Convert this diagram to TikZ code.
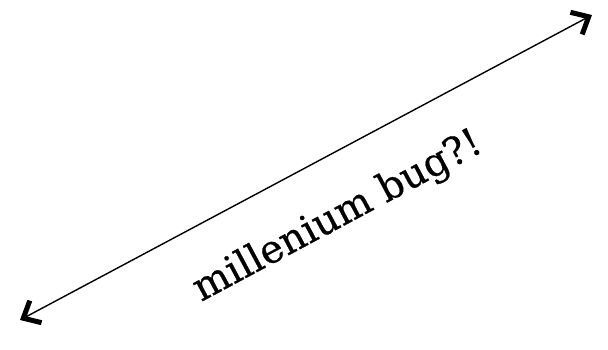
\documentclass[tikz,border=0pt]{standalone}
\usepackage{fontspec}
\setmainfont{DejaVu Serif}[FakeBold=0.6]
\usetikzlibrary{arrows.meta}
\tikzset{
  tipb/.tip={Straight Barb[length=14pt,width=25pt,line width=5pt]},
  conn/.style={line width=1.4pt, {tipb}-{tipb}},
  lbl/.style={font=\fontsize{39}{44}\selectfont, inner sep=0pt}
}
\begin{document}
\begin{tikzpicture}[x=1pt,y=-1pt]
\useasboundingbox (0,0) rectangle (608,350);
\coordinate (a) at (20,320);
\coordinate (b) at (592,15);
\draw[conn] (a) -- (b);
\node[lbl, rotate=28.1] (t) at (338,217) {millenium bug?!};
\end{tikzpicture}
\end{document}
